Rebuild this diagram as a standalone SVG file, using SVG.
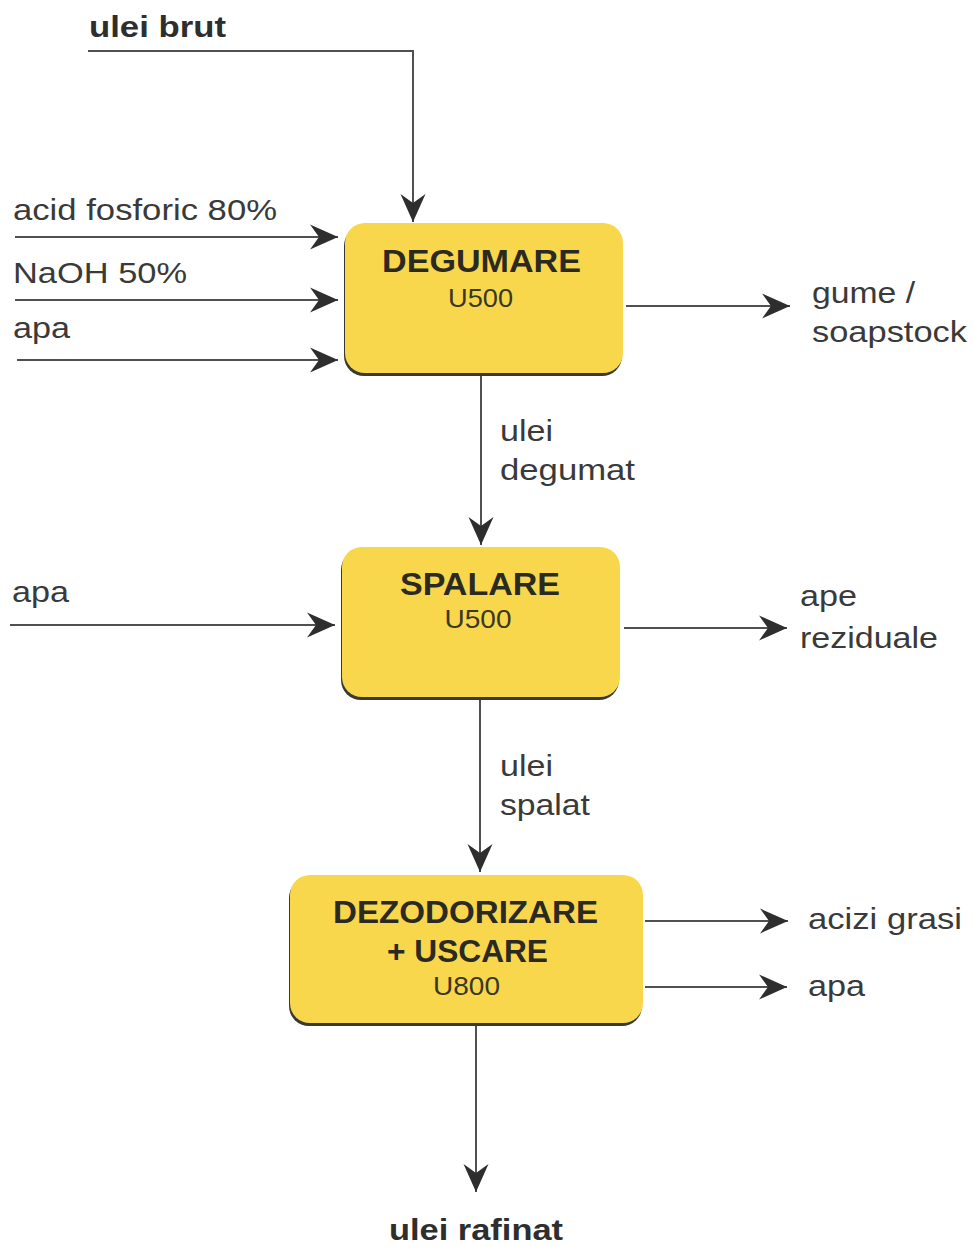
<svg xmlns="http://www.w3.org/2000/svg" width="974" height="1247" viewBox="0 0 974 1247">
<style>
.lbl{font-family:"Liberation Sans",Arial,sans-serif;font-size:30px;fill:#3a3a3a}
.bold{font-weight:bold;fill:#2e2e2e}
.title{font-family:"Liberation Sans",Arial,sans-serif;font-size:31px;font-weight:bold;fill:#2b2a22;text-anchor:middle}
.code{font-family:"Liberation Sans",Arial,sans-serif;font-size:26px;fill:#3a3826;text-anchor:middle}
.box{fill:#F9D74C}
.shadow{fill:#3b3a30}
.conn{fill:none;stroke:#505050;stroke-width:2}
</style>
<defs>
<marker id="arr" viewBox="-30 -14 32 28" refX="0" refY="0" markerWidth="32" markerHeight="28" markerUnits="userSpaceOnUse" orient="auto">
<path d="M0,0 L-28,-12.5 L-19,0 L-28,12.5 Z" fill="#2e2e2e"/>
</marker>
</defs>
<rect width="974" height="1247" fill="#ffffff"/>

<g id="connectors">
<polyline class="conn" points="88,51 413,51 413,222" marker-end="url(#arr)"/>
<line class="conn" x1="15" y1="237" x2="338" y2="237" marker-end="url(#arr)"/>
<line class="conn" x1="15" y1="300" x2="338" y2="300" marker-end="url(#arr)"/>
<line class="conn" x1="17" y1="360" x2="338" y2="360" marker-end="url(#arr)"/>
<line class="conn" x1="626" y1="306" x2="790" y2="306" marker-end="url(#arr)"/>
<line class="conn" x1="481" y1="376" x2="481" y2="545" marker-end="url(#arr)"/>
<line class="conn" x1="10" y1="625" x2="335" y2="625" marker-end="url(#arr)"/>
<line class="conn" x1="624" y1="628" x2="787" y2="628" marker-end="url(#arr)"/>
<line class="conn" x1="480" y1="700" x2="480" y2="872" marker-end="url(#arr)"/>
<line class="conn" x1="645" y1="921" x2="788" y2="921" marker-end="url(#arr)"/>
<line class="conn" x1="645" y1="987" x2="787" y2="987" marker-end="url(#arr)"/>
<line class="conn" x1="476" y1="1026" x2="476" y2="1192" marker-end="url(#arr)"/>
</g>

<g id="labels">
<text class="lbl bold" x="89" y="37" textLength="137" lengthAdjust="spacingAndGlyphs">ulei brut</text>
<text class="lbl" x="13" y="220" textLength="264" lengthAdjust="spacingAndGlyphs">acid fosforic 80%</text>
<text class="lbl" x="13" y="283" textLength="174" lengthAdjust="spacingAndGlyphs">NaOH 50%</text>
<text class="lbl" x="13" y="338" textLength="57" lengthAdjust="spacingAndGlyphs">apa</text>
<text class="lbl" x="812" y="303" textLength="103" lengthAdjust="spacingAndGlyphs">gume /</text>
<text class="lbl" x="812" y="342" textLength="155" lengthAdjust="spacingAndGlyphs">soapstock</text>
<text class="lbl" x="500" y="441" textLength="53" lengthAdjust="spacingAndGlyphs">ulei</text>
<text class="lbl" x="500" y="480" textLength="135" lengthAdjust="spacingAndGlyphs">degumat</text>
<text class="lbl" x="12" y="602" textLength="57" lengthAdjust="spacingAndGlyphs">apa</text>
<text class="lbl" x="800" y="606" textLength="57" lengthAdjust="spacingAndGlyphs">ape</text>
<text class="lbl" x="800" y="648" textLength="138" lengthAdjust="spacingAndGlyphs">reziduale</text>
<text class="lbl" x="500" y="776" textLength="53" lengthAdjust="spacingAndGlyphs">ulei</text>
<text class="lbl" x="500" y="815" textLength="90" lengthAdjust="spacingAndGlyphs">spalat</text>
<text class="lbl" x="808" y="929" textLength="154" lengthAdjust="spacingAndGlyphs">acizi grasi</text>
<text class="lbl" x="808" y="996" textLength="57" lengthAdjust="spacingAndGlyphs">apa</text>
<text class="lbl bold" x="389" y="1240" textLength="174" lengthAdjust="spacingAndGlyphs">ulei rafinat</text>
</g>

<g id="degumare">
<rect class="shadow" x="344" y="226" width="278" height="150" rx="20"/>
<rect class="box" x="345" y="223" width="278" height="150" rx="20"/>
<text class="title" x="481.5" y="272" textLength="199" lengthAdjust="spacingAndGlyphs">DEGUMARE</text>
<text class="code" x="480.5" y="307" textLength="65" lengthAdjust="spacingAndGlyphs">U500</text>
</g>

<g id="spalare">
<rect class="shadow" x="341" y="550" width="278" height="150" rx="20"/>
<rect class="box" x="342" y="547" width="278" height="150" rx="20"/>
<text class="title" x="480" y="595" textLength="160" lengthAdjust="spacingAndGlyphs">SPALARE</text>
<text class="code" x="478" y="628" textLength="67" lengthAdjust="spacingAndGlyphs">U500</text>
</g>

<g id="dezodorizare">
<rect class="shadow" x="289" y="878" width="353" height="148" rx="20"/>
<rect class="box" x="290" y="875" width="353" height="148" rx="20"/>
<text class="title" x="465.5" y="923" textLength="265" lengthAdjust="spacingAndGlyphs">DEZODORIZARE</text>
<text class="title" x="467.5" y="962" textLength="161" lengthAdjust="spacingAndGlyphs">+ USCARE</text>
<text class="code" x="466.5" y="995" textLength="67" lengthAdjust="spacingAndGlyphs">U800</text>
</g>
</svg>
